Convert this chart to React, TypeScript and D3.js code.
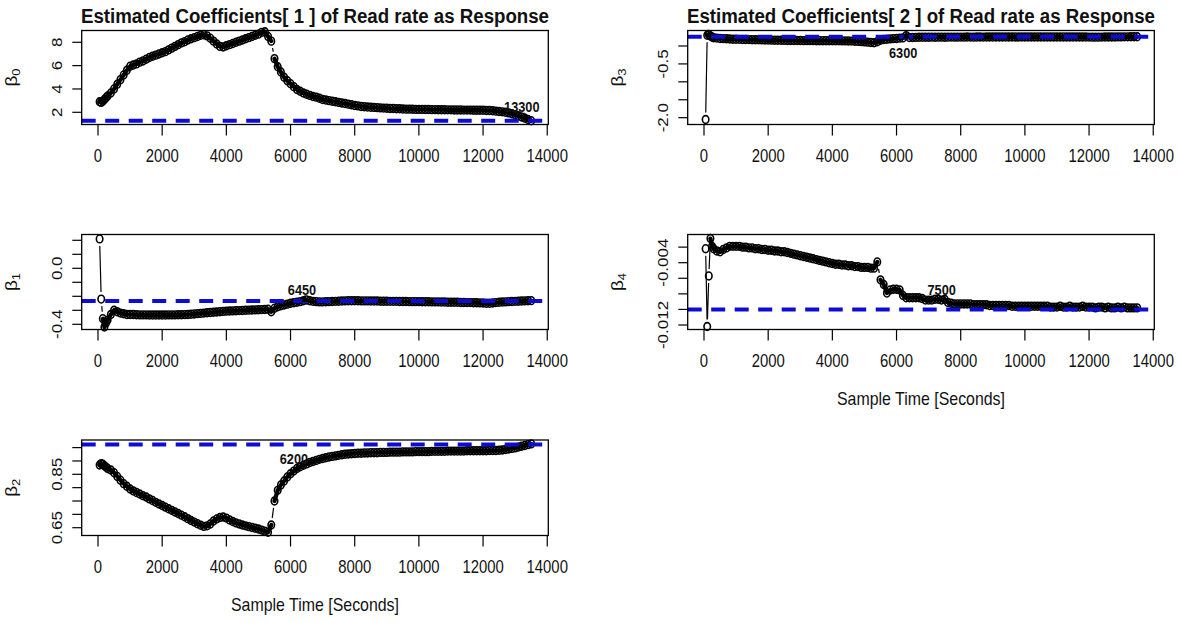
import React from "react";
import * as d3 from "d3";

// ---------------- data ----------------
const sampleTimes = [
  50, 100, 150, 200, 250,
  300, 400, 500, 600, 700, 800, 900,
  1000, 1100, 1200, 1300, 1400, 1500, 1600, 1700, 1800, 1900,
  2000, 2100, 2200, 2300, 2400, 2500, 2600, 2700, 2800, 2900,
  3000, 3100, 3200, 3300, 3400, 3500, 3600, 3700, 3800, 3900,
  4000, 4100, 4200, 4300, 4400, 4500, 4600, 4700, 4800, 4900,
  5000, 5100, 5200, 5300, 5400, 5500, 5600, 5700, 5800, 5900,
  6000, 6100, 6200, 6300, 6400, 6500, 6600, 6700, 6800, 6900,
  7000, 7100, 7200, 7300, 7400, 7500, 7600, 7700, 7800, 7900,
  8000, 8100, 8200, 8300, 8400, 8500, 8600, 8700, 8800, 8900,
  9000, 9100, 9200, 9300, 9400, 9500, 9600, 9700, 9800, 9900,
  10000, 10100, 10200, 10300, 10400, 10500, 10600, 10700, 10800, 10900,
  11000, 11100, 11200, 11300, 11400, 11500, 11600, 11700, 11800, 11900,
  12000, 12100, 12200, 12300, 12400, 12500, 12600, 12700, 12800, 12900,
  13000, 13100, 13200, 13300, 13400, 13500,
];

const beta0 = [
  2.9, 2.85, 2.95, 3.1, 3.25,
  3.4, 3.65, 4.0, 4.4, 4.8, 5.2, 5.6,
  5.95, 6.05, 6.15, 6.3, 6.4, 6.55, 6.7, 6.8, 6.9, 7.0,
  7.1, 7.2, 7.35, 7.5, 7.65, 7.8, 7.95, 8.05, 8.2, 8.3,
  8.4, 8.5, 8.6, 8.65, 8.55, 8.35, 8.1, 7.85, 7.65, 7.6,
  7.7, 7.8, 7.9, 8.0, 8.1, 8.2, 8.3, 8.4, 8.5, 8.6,
  8.7, 8.85, 8.9, 8.5, 8.1, 6.6, 5.9, 5.45, 5.0, 4.7,
  4.45, 4.2, 3.95, 3.8, 3.65, 3.55, 3.45, 3.35, 3.3, 3.2,
  3.1, 3.05, 3.0, 2.95, 2.9, 2.85, 2.8, 2.75, 2.7, 2.65,
  2.58, 2.55, 2.5, 2.48, 2.45, 2.43, 2.42, 2.4, 2.38, 2.36,
  2.35, 2.33, 2.32, 2.3, 2.3, 2.28, 2.27, 2.27, 2.26, 2.25,
  2.25, 2.25, 2.24, 2.24, 2.23, 2.23, 2.22, 2.22, 2.22, 2.21,
  2.21, 2.2, 2.2, 2.2, 2.19, 2.19, 2.19, 2.18, 2.18, 2.18,
  2.17, 2.16, 2.15, 2.13, 2.1, 2.07, 2.04, 2.0, 1.95, 1.88,
  1.8, 1.7, 1.6, 1.5, 1.38, 1.28,
];

const beta1 = [
  0.21, -0.22, -0.36, -0.42, -0.39,
  -0.37, -0.33, -0.3, -0.31, -0.32, -0.325, -0.33,
  -0.33, -0.33, -0.332, -0.333, -0.333, -0.333, -0.334, -0.334, -0.334, -0.334,
  -0.334, -0.334, -0.333, -0.333, -0.333, -0.332, -0.332, -0.331, -0.33, -0.328,
  -0.326, -0.324, -0.322, -0.32, -0.318, -0.316, -0.314, -0.312, -0.31, -0.308,
  -0.306, -0.305, -0.304, -0.303, -0.302, -0.301, -0.3, -0.299, -0.298, -0.297,
  -0.296, -0.295, -0.294, -0.293, -0.31, -0.285, -0.275, -0.268, -0.262, -0.256,
  -0.25, -0.246, -0.242, -0.238, -0.232, -0.226, -0.232, -0.236, -0.238, -0.24,
  -0.24, -0.239, -0.238, -0.237, -0.236, -0.235, -0.234, -0.233, -0.232, -0.232,
  -0.232, -0.232, -0.233, -0.233, -0.233, -0.234, -0.234, -0.234, -0.235, -0.235,
  -0.235, -0.236, -0.236, -0.236, -0.237, -0.237, -0.237, -0.238, -0.238, -0.238,
  -0.238, -0.239, -0.239, -0.239, -0.24, -0.24, -0.24, -0.241, -0.241, -0.242,
  -0.242, -0.243, -0.243, -0.244, -0.244, -0.245, -0.245, -0.246, -0.246, -0.247,
  -0.248, -0.25, -0.25, -0.248, -0.245, -0.243, -0.241, -0.24, -0.238, -0.237,
  -0.236, -0.235, -0.234, -0.233, -0.232, -0.231,
];

const beta2 = [
  0.885, 0.89, 0.888, 0.882, 0.877,
  0.872, 0.866, 0.856, 0.842, 0.828, 0.815, 0.805,
  0.795, 0.788, 0.782, 0.776, 0.77, 0.765, 0.758, 0.752, 0.745, 0.739,
  0.733, 0.727, 0.721, 0.715, 0.709, 0.703, 0.697, 0.691, 0.684, 0.677,
  0.671, 0.665, 0.659, 0.655, 0.657, 0.664, 0.675, 0.683, 0.688, 0.69,
  0.686, 0.679, 0.673, 0.668, 0.664, 0.66, 0.657, 0.654, 0.651, 0.648,
  0.645, 0.641, 0.637, 0.633, 0.66, 0.75, 0.79, 0.81, 0.825, 0.84,
  0.852, 0.862, 0.872, 0.878, 0.884, 0.889, 0.894, 0.898, 0.902, 0.906,
  0.909, 0.912, 0.915, 0.917, 0.919, 0.921, 0.923, 0.925, 0.926, 0.927,
  0.928, 0.929, 0.929, 0.93, 0.93, 0.931, 0.931, 0.931, 0.932, 0.932,
  0.932, 0.933, 0.933, 0.933, 0.933, 0.934, 0.934, 0.934, 0.934, 0.935,
  0.935, 0.935, 0.935, 0.935, 0.936, 0.936, 0.936, 0.936, 0.936, 0.937,
  0.937, 0.937, 0.937, 0.937, 0.937, 0.938, 0.938, 0.938, 0.938, 0.938,
  0.938, 0.938, 0.939, 0.939, 0.939, 0.94, 0.941, 0.943, 0.945, 0.947,
  0.949, 0.952, 0.955, 0.958, 0.961, 0.964,
];

const beta3 = [
  -2.05, 0.3, 0.32, 0.28, 0.25,
  0.23, 0.22, 0.21, 0.205, 0.2, 0.195, 0.19,
  0.188, 0.185, 0.182, 0.18, 0.178, 0.176, 0.174, 0.172, 0.17, 0.168,
  0.166, 0.164, 0.162, 0.16, 0.158, 0.156, 0.155, 0.154, 0.153, 0.152,
  0.151, 0.15, 0.15, 0.149, 0.149, 0.148, 0.148, 0.147, 0.147, 0.146,
  0.146, 0.145, 0.144, 0.143, 0.142, 0.14, 0.137, 0.133, 0.128, 0.122,
  0.115, 0.107, 0.098, 0.09, 0.12, 0.16, 0.18, 0.19, 0.198, 0.205,
  0.21, 0.218, 0.225, 0.29, 0.235, 0.238, 0.24, 0.242, 0.243, 0.244,
  0.245, 0.246, 0.244, 0.247, 0.246, 0.245, 0.247, 0.248, 0.246, 0.247,
  0.248, 0.247, 0.249, 0.248, 0.247, 0.249, 0.25, 0.248, 0.249, 0.25,
  0.249, 0.25, 0.251, 0.25, 0.249, 0.251, 0.25, 0.252, 0.251, 0.25,
  0.251, 0.252, 0.25, 0.251, 0.252, 0.251, 0.25, 0.252, 0.251, 0.252,
  0.251, 0.25, 0.252, 0.251, 0.25, 0.249, 0.25, 0.251, 0.25, 0.249,
  0.248, 0.247, 0.246, 0.247, 0.248, 0.249, 0.25, 0.251, 0.252, 0.253,
  0.254, 0.255, 0.255, 0.256, 0.256, 0.257,
];

const beta4 = [
  -0.0022, -0.0122, -0.0057, -0.0009, -0.0019,
  -0.0022, -0.0025, -0.0026, -0.0023, -0.0021, -0.0019, -0.0019,
  -0.0019, -0.0019, -0.002, -0.002, -0.0021, -0.0021, -0.0022, -0.0022, -0.0023, -0.0023,
  -0.0024, -0.0024, -0.0025, -0.0025, -0.0026, -0.0026, -0.0027, -0.0028, -0.0029, -0.003,
  -0.0031, -0.0032, -0.0033, -0.0034, -0.0035, -0.0036, -0.0037, -0.0038, -0.0039, -0.004,
  -0.0041, -0.0042, -0.0042, -0.0043, -0.0043, -0.0044, -0.0044, -0.0045, -0.0045, -0.0046,
  -0.0046, -0.0046, -0.0047, -0.0047, -0.0039, -0.0062, -0.0068, -0.0079, -0.0075, -0.0074,
  -0.0074, -0.0075, -0.0082, -0.0085, -0.0085, -0.0085, -0.0085, -0.0085, -0.0086, -0.0088,
  -0.0088, -0.0088, -0.0087, -0.0087, -0.0088, -0.0087, -0.0091, -0.0092, -0.0093, -0.0093,
  -0.0093, -0.0093, -0.0093, -0.0093, -0.0094, -0.0094, -0.0094, -0.0094, -0.0094, -0.0095,
  -0.0095, -0.0095, -0.0095, -0.0095, -0.0095, -0.0095, -0.0096, -0.0096, -0.0096, -0.0096,
  -0.0096, -0.0096, -0.0096, -0.0096, -0.0096, -0.0096, -0.0096, -0.0096, -0.0097, -0.0097,
  -0.0097, -0.0096, -0.0097, -0.0097, -0.0096, -0.0097, -0.0097, -0.0097, -0.0096, -0.0097,
  -0.0097, -0.0097, -0.0098, -0.0097, -0.0097, -0.0098, -0.0097, -0.0098, -0.0098, -0.0097,
  -0.0098, -0.0097, -0.0098, -0.0098, -0.0098, -0.0098,
];

// dashed reference values per coefficient
const refValues = [1.28, -0.233, 0.962, 0.26, -0.01];

// highlighted marker (triangle + label) per coefficient
const markTimes = [13300, 6450, 6200, 6300, 7500];
const markValues = [1.6, -0.222, 0.872, 0.29, -0.0087];
const markLabels = ["13300", "6450", "6200", "6300", "7500"];
const markBelow = [false, false, false, true, false];

// axes
const xTicks = [0, 2000, 4000, 6000, 8000, 10000, 12000, 14000];
const yTicks0 = [2, 4, 6, 8];
const yLabels0 = ["2", "4", "6", "8"];
const yTicks1 = [-0.4, -0.3, -0.2, -0.1, 0.0, 0.1, 0.2];
const yLabels1 = ["-0.4", "", "", "", "0.0", "", ""];
const yTicks2 = [0.65, 0.7, 0.75, 0.8, 0.85, 0.9, 0.95];
const yLabels2 = ["0.65", "", "", "", "0.85", "", ""];
const yTicks3 = [-2.0, -1.5, -1.0, -0.5, 0.0];
const yLabels3 = ["-2.0", "", "", "-0.5", ""];
const yTicks4 = [-0.012, -0.01, -0.008, -0.006, -0.004, -0.002];
const yLabels4 = ["-0.012", "", "", "", "-0.004", ""];

const titles = [
  "Estimated Coefficients[ 1 ] of Read rate as Response",
  "Estimated Coefficients[ 2 ] of Read rate as Response",
];
const xAxisTitle = "Sample Time [Seconds]";

// ---------------- layout ----------------
const SX = 0.85; // horizontal squeeze of the original rendering
const X_DOMAIN = [-508, 14033];
const LEFT_RANGE = [81.7, 548.3];
const COL_SHIFT = 606;
const ROWS = [
  [30.5, 124.5],
  [234.5, 329.5],
  [440, 535.5],
];
const GAP = 7;
const BLUE = "#0c0cd6";
const FONT = "'Liberation Sans', Arial, Helvetica, sans-serif";

type PanelDef = {
  values: number[];
  col: number;
  row: number;
  yDomain: [number, number];
  yTicks: number[];
  yLabels: string[];
  idx: number;
  showXTitle: boolean;
};

const panels: PanelDef[] = [
  { values: beta0, col: 0, row: 0, yDomain: [0.954, 9.011], yTicks: yTicks0, yLabels: yLabels0, idx: 0, showXTitle: false },
  { values: beta1, col: 0, row: 1, yDomain: [-0.4371, 0.2414], yTicks: yTicks1, yLabels: yLabels1, idx: 1, showXTitle: false },
  { values: beta2, col: 0, row: 2, yDomain: [0.6208, 0.9785], yTicks: yTicks2, yLabels: yLabels2, idx: 2, showXTitle: true },
  { values: beta3, col: 1, row: 0, yDomain: [-2.19, 0.432], yTicks: yTicks3, yLabels: yLabels3, idx: 3, showXTitle: false },
  { values: beta4, col: 1, row: 1, yDomain: [-0.012578, -0.000379], yTicks: yTicks4, yLabels: yLabels4, idx: 4, showXTitle: true },
];

function Panel({ p }: { p: PanelDef }) {
  const shift = p.col * COL_SHIFT;
  const [top, bottom] = ROWS[p.row];
  const left = LEFT_RANGE[0] + shift;
  const right = LEFT_RANGE[1] + shift;
  const x = d3.scaleLinear().domain(X_DOMAIN).range([left, right]);
  const y = d3.scaleLinear().domain(p.yDomain).range([bottom, top]);

  const pts = sampleTimes.map((t, i) => [x(t), y(p.values[i])] as [number, number]);
  let segPath = "";
  let densePath = "";
  for (let i = 0; i < pts.length - 1; i++) {
    const [x0, y0] = pts[i];
    const [x1, y1] = pts[i + 1];
    const dx = x1 - x0;
    const dy = y1 - y0;
    const L = Math.hypot(dx, dy);
    if (L > 2 * GAP) {
      const f = GAP / L;
      segPath += `M${x0 + f * dx},${y0 + f * dy}L${x1 - f * dx},${y1 - f * dy}`;
    } else {
      // densely packed samples merge into a solid run of overlapping symbols
      densePath += `M${x0},${y0}L${x1},${y1}`;
    }
  }

  const refY = y(refValues[p.idx]);
  const mx = x(markTimes[p.idx]);
  const my = y(markValues[p.idx]);
  const below = markBelow[p.idx];
  const cx = (left + right) / 2;
  const midY = (top + bottom) / 2;

  return (
    <g>
      {/* lines with gaps (type = "b") */}
      <path d={segPath} stroke="#000" strokeWidth={1.2} fill="none" />
      <path d={densePath} stroke="#000" strokeWidth={4.2} strokeLinecap="round" fill="none" />
      {pts.map(([px, py], i) => (
        <ellipse key={i} cx={px} cy={py} rx={3.8 * SX} ry={3.9} fill="none" stroke="#000" strokeWidth={1.6} />
      ))}
      {/* dashed reference line */}
      <line x1={left} x2={right} y1={refY} y2={refY} stroke={BLUE} strokeWidth={4} strokeDasharray="14 9.5" />
      {/* marker */}
      <path
        d={`M${mx},${my - 4.6}L${mx + 4 * SX},${my + 2.6}L${mx - 4 * SX},${my + 2.6}Z`}
        fill="#000"
      />
      <text
        transform={`translate(${mx - 3},${below ? my + 22 : my - 4.5}) scale(${SX},1)`}
        fontSize={15}
        fontWeight="bold"
        textAnchor="middle"
        fill="#111"
      >
        {markLabels[p.idx]}
      </text>
      {/* box */}
      <rect x={left} y={top} width={right - left} height={bottom - top} fill="none" stroke="#000" strokeWidth={1.3} />
      {/* x axis ticks */}
      {xTicks.map((t) => (
        <g key={t}>
          <line x1={x(t)} x2={x(t)} y1={bottom} y2={bottom + 11} stroke="#000" strokeWidth={1.2} />
          <text
            transform={`translate(${x(t)},${bottom + 37}) scale(${SX},1)`}
            fontSize={17.5}
            textAnchor="middle"
            fill="#111"
          >
            {t}
          </text>
        </g>
      ))}
      {/* y axis ticks */}
      {p.yTicks.map((v, i) => (
        <g key={i}>
          <line x1={left} x2={left - 9.4} y1={y(v)} y2={y(v)} stroke="#000" strokeWidth={1.2} />
          {p.yLabels[i] !== "" && (
            <text
              transform={`translate(${left - 20},${y(v)}) scale(${SX},1) rotate(-90)`}
              fontSize={17}
              textAnchor="middle"
              fill="#111"
            >
              {p.yLabels[i]}
            </text>
          )}
        </g>
      ))}
      {/* y axis title: beta with subscript */}
      <text
        transform={`translate(${17 + shift},${midY}) scale(${SX},1) rotate(-90)`}
        fontSize={19}
        textAnchor="middle"
        fill="#111"
      >
        β
        <tspan fontSize={13} dy={4}>
          {String(p.idx)}
        </tspan>
      </text>
      {p.showXTitle && (
        <text
          x={cx}
          y={bottom + 75}
          fontSize={19}
          textAnchor="middle"
          textLength={168}
          lengthAdjust="spacingAndGlyphs"
          fill="#111"
        >
          {xAxisTitle}
        </text>
      )}
    </g>
  );
}

export default function App() {
  return (
    <svg
      width={1180}
      height={623}
      style={{ position: "absolute", left: 0, top: 0, display: "block", background: "#fff" }}
      fontFamily={FONT}
    >
      <rect x={0} y={0} width={1180} height={623} fill="#fff" />
      {titles.map((t, c) => {
        const cx = (LEFT_RANGE[0] + LEFT_RANGE[1]) / 2 + c * COL_SHIFT;
        return (
          <text
            key={c}
            x={cx}
            y={23.3}
            fontSize={19.5}
            fontWeight="bold"
            textAnchor="middle"
            textLength={468}
            lengthAdjust="spacingAndGlyphs"
            fill="#111"
          >
            {t}
          </text>
        );
      })}
      {panels.map((p) => (
        <Panel key={p.idx} p={p} />
      ))}
    </svg>
  );
}
